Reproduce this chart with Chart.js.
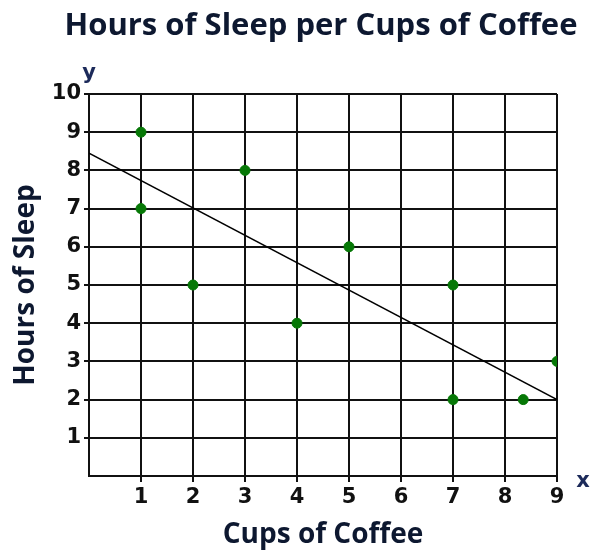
<!DOCTYPE html>
<html>
<head>
<meta charset="utf-8">
<script src="https://cdn.jsdelivr.net/npm/chart.js@4"></script>
<style>
  html, body { margin: 0; padding: 0; background: #fff; }
  #wrap { width: 590px; height: 556px; position: relative; }
</style>
</head>
<body>
<div id="wrap"><canvas id="sleepChart"></canvas></div>
<script>
/* ── Data ─────────────────────────────────────────────── */
const cups  = [1, 1, 2, 3, 4, 5, 7, 7, 8.35, 9];
const sleep = [9, 7, 5, 8, 4, 6, 5, 2, 2, 3];
const fitX  = [0, 9];
const fitY  = [8.45, 2];
const xTicks = [1, 2, 3, 4, 5, 6, 7, 8, 9];
const yTicks = [1, 2, 3, 4, 5, 6, 7, 8, 9, 10];

const TITLE = 'Hours of Sleep per Cups of Coffee';
const INK = '#0d1830';

/* title over the plot and the small "x" / "y" letters at the axis ends */
const extraText = {
  id: 'extraText',
  afterDraw(chart) {
    const { ctx, scales: { x, y } } = chart;
    ctx.save();
    ctx.fillStyle = INK;
    ctx.font = 'bold 31px "Open Sans"';
    ctx.textAlign = 'center';
    ctx.textBaseline = 'alphabetic';
    ctx.fillText(TITLE, 321, 35);

    ctx.fillStyle = '#1c2a5a';
    ctx.font = 'bold 21px "DejaVu Sans"';
    ctx.textBaseline = 'middle';
    ctx.fillText('y', x.getPixelForValue(0), y.getPixelForValue(10) - 20);
    ctx.fillText('x', x.getPixelForValue(9) + 26, y.getPixelForValue(0) + 6);
    ctx.restore();
  }
};

const hideZero = c => (c.tick && c.tick.value === 0 ? 'rgba(0,0,0,0)' : '#111');

const ctx = document.getElementById('sleepChart').getContext('2d');
new Chart(ctx, {
  type: 'scatter',
  data: {
    datasets: [
      {
        type: 'line',
        data: fitX.map((v, i) => ({ x: v, y: fitY[i] })),
        borderColor: '#000',
        borderWidth: 1.5,
        pointRadius: 0,
        fill: false
      },
      {
        data: cups.map((v, i) => ({ x: v, y: sleep[i] })),
        backgroundColor: '#067806',
        borderColor: '#067806',
        pointRadius: 5
      }
    ]
  },
  options: {
    responsive: true,
    maintainAspectRatio: false,
    animation: false,
    layout: { padding: { left: 0, right: 33, top: 94, bottom: 0 } },
    plugins: {
      legend: { display: false },
      tooltip: { enabled: false },
      title: { display: false }
    },
    scales: {
      x: {
        type: 'linear',
        min: 0, max: 9,
        afterBuildTicks: s => { s.ticks = [0].concat(xTicks).map(v => ({ value: v })); },
        afterFit: s => { s.height = 80; },
        ticks: {
          callback: v => (v === 0 ? '' : v),
          color: '#111',
          font: { family: '"DejaVu Sans"', size: 21, weight: 'bold' },
          padding: 3,
          maxRotation: 0
        },
        grid: { color: '#111', lineWidth: 2, tickLength: 6, tickColor: hideZero },
        border: { color: '#111', width: 2 },
        title: {
          display: true,
          text: 'Cups of Coffee',
          color: INK,
          font: { family: '"Open Sans"', size: 28, weight: 'bold', lineHeight: 1.2 },
          padding: { top: 0, bottom: 4 }
        }
      },
      y: {
        type: 'linear',
        min: 0, max: 10,
        afterBuildTicks: s => { s.ticks = [0].concat(yTicks).map(v => ({ value: v })); },
        afterFit: s => { s.width = 89; },
        ticks: {
          callback: v => (v === 0 ? '' : v),
          color: '#111',
          font: { family: '"DejaVu Sans"', size: 21, weight: 'bold' },
          padding: 3
        },
        grid: { color: '#111', lineWidth: 2, tickLength: 5, tickColor: hideZero },
        border: { color: '#111', width: 2 },
        title: {
          display: true,
          text: 'Hours of Sleep',
          color: INK,
          font: { family: '"Open Sans"', size: 28, weight: 'bold', lineHeight: 1.2 },
          padding: { top: 9, bottom: 0 }
        }
      }
    }
  },
  plugins: [extraText]
});
</script>
</body>
</html>
